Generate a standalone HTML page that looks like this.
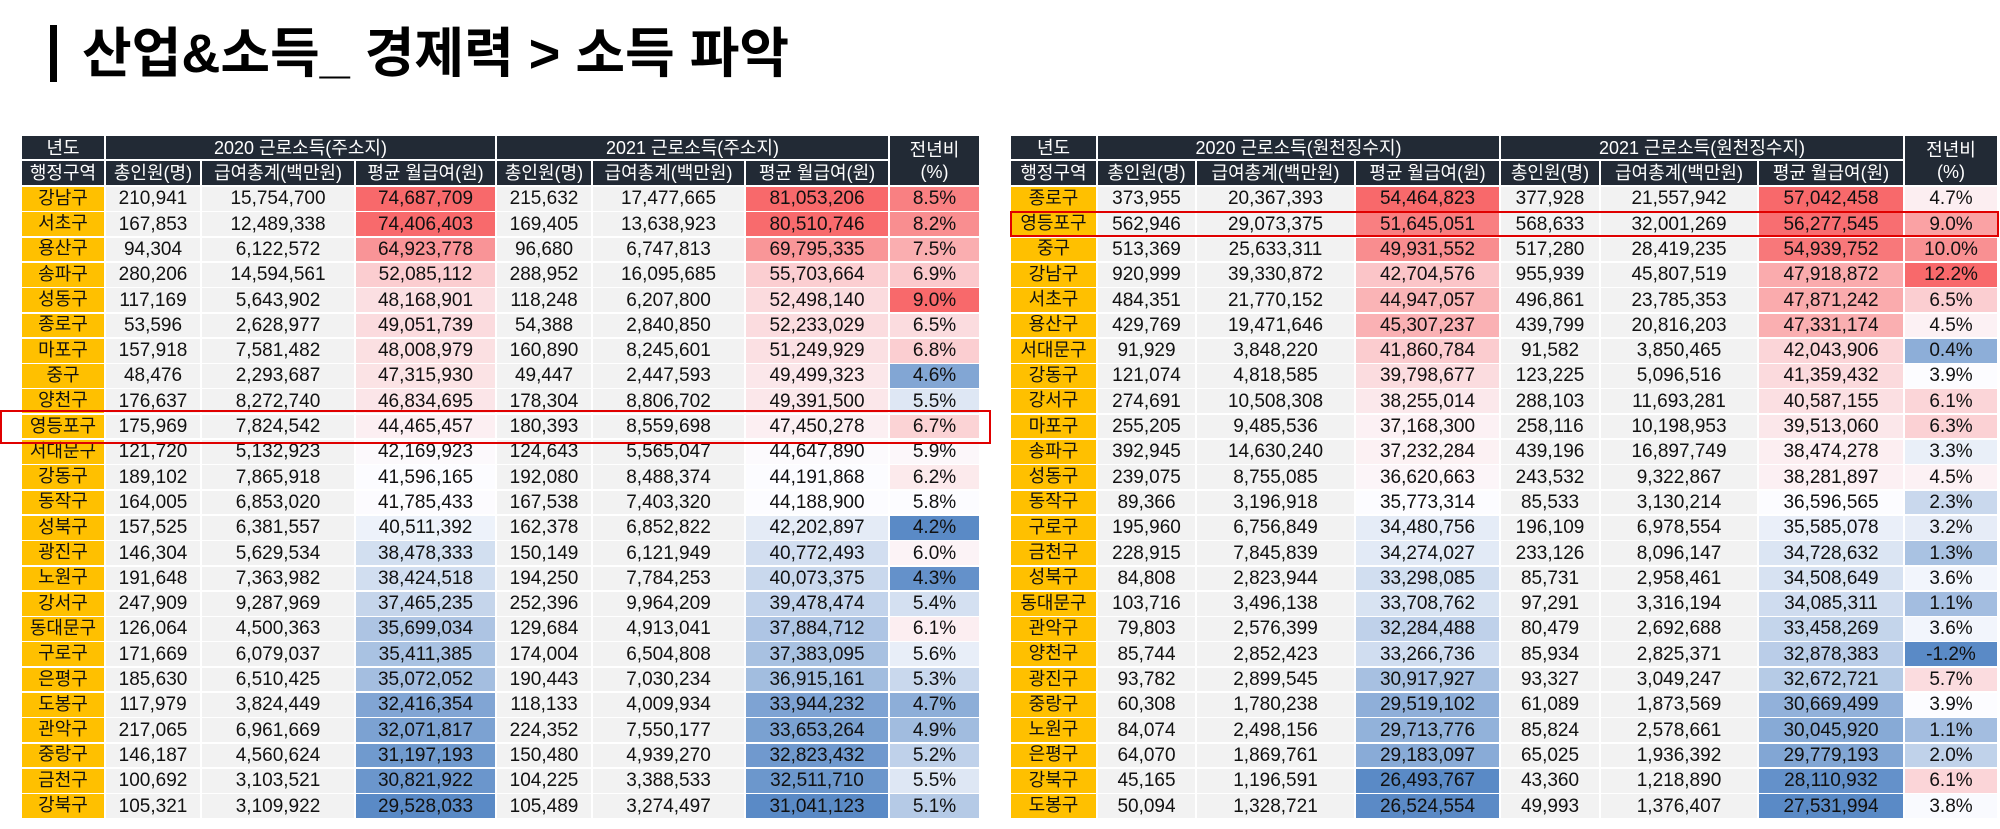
<!DOCTYPE html>
<html><head><meta charset="utf-8">
<style>
html,body{margin:0;padding:0;background:#fff;}
body{width:2000px;height:829px;position:relative;overflow:hidden;font-family:"Liberation Sans","Noto Sans CJK KR",sans-serif;}
.c{position:absolute;box-sizing:border-box;border:1px solid #fff;display:flex;align-items:center;justify-content:center;font-size:19px;line-height:1;color:#111;white-space:nowrap;overflow:hidden;}
.h{background:#222a35;color:#fff;font-size:18px;}
.n{background:#ffc000;font-size:18px;padding-bottom:2px;}
.d{background:#f2f2f2;}
.box{position:absolute;border:2px solid #e00000;box-sizing:border-box;}
</style></head>
<body>
<div style="position:absolute;left:50px;top:25px;width:7px;height:57px;background:#000"></div>
<div style="position:absolute;left:82px;top:22px;font-size:54px;font-weight:bold;line-height:64px;font-family:'Liberation Sans','Noto Sans CJK KR',sans-serif;color:#000">산업&amp;소득_ 경제력 &gt; 소득 파악</div>
<div id="root"></div>
<script>
const leftDistricts=["강남구","서초구","용산구","송파구","성동구","종로구","마포구","중구","양천구","영등포구","서대문구","강동구","동작구","성북구","광진구","노원구","강서구","동대문구","구로구","은평구","도봉구","관악구","중랑구","금천구","강북구"];
const leftPeople20=[210941,167853,94304,280206,117169,53596,157918,48476,176637,175969,121720,189102,164005,157525,146304,191648,247909,126064,171669,185630,117979,217065,146187,100692,105321];
const leftTotal20=[15754700,12489338,6122572,14594561,5643902,2628977,7581482,2293687,8272740,7824542,5132923,7865918,6853020,6381557,5629534,7363982,9287969,4500363,6079037,6510425,3824449,6961669,4560624,3103521,3109922];
const leftAvg20=[74687709,74406403,64923778,52085112,48168901,49051739,48008979,47315930,46834695,44465457,42169923,41596165,41785433,40511392,38478333,38424518,37465235,35699034,35411385,35072052,32416354,32071817,31197193,30821922,29528033];
const leftPeople21=[215632,169405,96680,288952,118248,54388,160890,49447,178304,180393,124643,192080,167538,162378,150149,194250,252396,129684,174004,190443,118133,224352,150480,104225,105489];
const leftTotal21=[17477665,13638923,6747813,16095685,6207800,2840850,8245601,2447593,8806702,8559698,5565047,8488374,7403320,6852822,6121949,7784253,9964209,4913041,6504808,7030234,4009934,7550177,4939270,3388533,3274497];
const leftAvg21=[81053206,80510746,69795335,55703664,52498140,52233029,51249929,49499323,49391500,47450278,44647890,44191868,44188900,42202897,40772493,40073375,39478474,37884712,37383095,36915161,33944232,33653264,32823432,32511710,31041123];
const leftYoY=[8.5,8.2,7.5,6.9,9.0,6.5,6.8,4.6,5.5,6.7,5.9,6.2,5.8,4.2,6.0,4.3,5.4,6.1,5.6,5.3,4.7,4.9,5.2,5.5,5.1];

const rightDistricts=["종로구","영등포구","중구","강남구","서초구","용산구","서대문구","강동구","강서구","마포구","송파구","성동구","동작구","구로구","금천구","성북구","동대문구","관악구","양천구","광진구","중랑구","노원구","은평구","강북구","도봉구"];
const rightPeople20=[373955,562946,513369,920999,484351,429769,91929,121074,274691,255205,392945,239075,89366,195960,228915,84808,103716,79803,85744,93782,60308,84074,64070,45165,50094];
const rightTotal20=[20367393,29073375,25633311,39330872,21770152,19471646,3848220,4818585,10508308,9485536,14630240,8755085,3196918,6756849,7845839,2823944,3496138,2576399,2852423,2899545,1780238,2498156,1869761,1196591,1328721];
const rightAvg20=[54464823,51645051,49931552,42704576,44947057,45307237,41860784,39798677,38255014,37168300,37232284,36620663,35773314,34480756,34274027,33298085,33708762,32284488,33266736,30917927,29519102,29713776,29183097,26493767,26524554];
const rightPeople21=[377928,568633,517280,955939,496861,439799,91582,123225,288103,258116,439196,243532,85533,196109,233126,85731,97291,80479,85934,93327,61089,85824,65025,43360,49993];
const rightTotal21=[21557942,32001269,28419235,45807519,23785353,20816203,3850465,5096516,11693281,10198953,16897749,9322867,3130214,6978554,8096147,2958461,3316194,2692688,2825371,3049247,1873569,2578661,1936392,1218890,1376407];
const rightAvg21=[57042458,56277545,54939752,47918872,47871242,47331174,42043906,41359432,40587155,39513060,38474278,38281897,36596565,35585078,34728632,34508649,34085311,33458269,32878383,32672721,30669499,30045920,29779193,28110932,27531994];
const rightYoY=[4.7,9.0,10.0,12.2,6.5,4.5,0.4,3.9,6.1,6.3,3.3,4.5,2.3,3.2,1.3,3.6,1.1,3.6,-1.2,5.7,3.9,1.1,2.0,6.1,3.8];

const root=document.getElementById('root');
const fmt=v=>v.toLocaleString('en-US');
function mix(a,b,t){return 'rgb('+a.map((x,i)=>Math.round(x+(b[i]-x)*t)).join(',')+')';}
const BLUE=[90,138,198],WHITE=[252,252,255],RED=[248,105,107];
function scale(arr){
  const s=[...arr].sort((a,b)=>a-b);const mn=s[0],mx=s[s.length-1];
  const n=s.length;const med=n%2?s[(n-1)/2]:(s[n/2-1]+s[n/2])/2;
  return v=>v<=med?mix(BLUE,WHITE,(v-mn)/((med-mn)||1)):mix(WHITE,RED,(v-med)/((mx-med)||1));
}
function cell(x,y,w,h,cls,txt,name,bg){
  const d=document.createElement('div');
  d.className='c '+cls;
  d.style.left=x+'px';d.style.top=y+'px';d.style.width=w+'px';d.style.height=h+'px';
  if(bg)d.style.background=bg;
  d.textContent=txt;
  
  
  root.appendChild(d);
}
function table(prefix,xs,hdr20,hdr21,names,p20,t20,a20,p21,t21,a21,yoy){
  const top=135,h1=25,h2=26,rh=25.3,dy=top+h1+h2;
  cell(xs[0],top,xs[1]-xs[0],h1,'h','년도',prefix+'-year-header');
  cell(xs[1],top,xs[4]-xs[1],h1,'h',hdr20,prefix+'-2020-header');
  cell(xs[4],top,xs[7]-xs[4],h1,'h',hdr21,prefix+'-2021-header');
  cell(xs[7],top,xs[8]-xs[7],h1+h2,'h','',prefix+'-yoy-header');
  root.lastChild.innerHTML='<div style="text-align:center;line-height:22px">전년비<br>(%)</div>';
  const subs=['행정구역','총인원(명)','급여총계(백만원)','평균 월급여(원)','총인원(명)','급여총계(백만원)','평균 월급여(원)'];
  subs.forEach((s,i)=>cell(xs[i],top+h1,xs[i+1]-xs[i],h2,'h',s,prefix+'-subheader-'+i));
  const sa20=scale(a20),sa21=scale(a21),sy=scale(yoy);
  names.forEach((nm,r)=>{
    const y=dy+r*rh,hh=rh+0.5;
    cell(xs[0],y,xs[1]-xs[0],hh,'n',nm,prefix+'-district-'+r);
    cell(xs[1],y,xs[2]-xs[1],hh,'d',fmt(p20[r]),prefix+'-people2020-'+r);
    cell(xs[2],y,xs[3]-xs[2],hh,'d',fmt(t20[r]),prefix+'-total2020-'+r);
    cell(xs[3],y,xs[4]-xs[3],hh,'d',fmt(a20[r]),prefix+'-avg2020-'+r,sa20(a20[r]));
    cell(xs[4],y,xs[5]-xs[4],hh,'d',fmt(p21[r]),prefix+'-people2021-'+r);
    cell(xs[5],y,xs[6]-xs[5],hh,'d',fmt(t21[r]),prefix+'-total2021-'+r);
    cell(xs[6],y,xs[7]-xs[6],hh,'d',fmt(a21[r]),prefix+'-avg2021-'+r,sa21(a21[r]));
    cell(xs[7],y,xs[8]-xs[7],hh,'d',yoy[r].toFixed(1)+'%',prefix+'-yoy-'+r,sy(yoy[r]));
  });
}
table('left-table',[21,105,201,355,496,592,745,889,980],'2020 근로소득(주소지)','2021 근로소득(주소지)',leftDistricts,leftPeople20,leftTotal20,leftAvg20,leftPeople21,leftTotal21,leftAvg21,leftYoY);
table('right-table',[1010,1097,1196,1355,1500,1600,1758,1904,1998],'2020 근로소득(원천징수지)','2021 근로소득(원천징수지)',rightDistricts,rightPeople20,rightTotal20,rightAvg20,rightPeople21,rightTotal21,rightAvg21,rightYoY);
</script>
<div class="box" style="left:0px;top:410px;width:991px;height:34px"></div>
<div class="box" style="left:1010px;top:211px;width:989px;height:26px"></div>
</body></html>
